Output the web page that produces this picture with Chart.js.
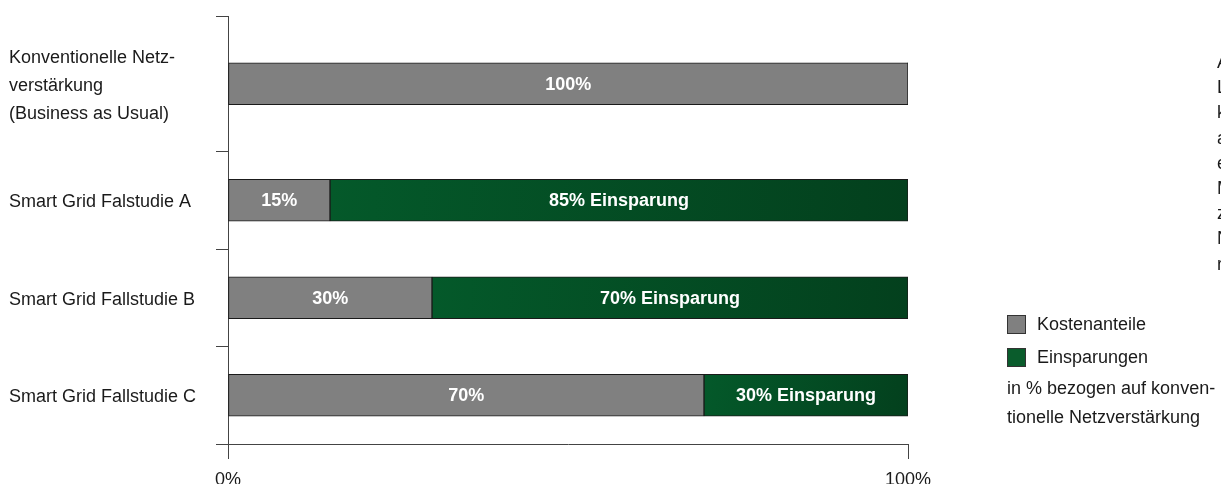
<!DOCTYPE html>
<html lang="de">
<head>
<meta charset="utf-8">
<title>Kostenanteile und Einsparungen</title>
<script src="https://cdn.jsdelivr.net/npm/chart.js@4/dist/chart.umd.min.js"></script>
<style>
  html, body { margin: 0; padding: 0; background: #fff; overflow: hidden; }
  #wrap { width: 1221px; height: 484px; }
</style>
</head>
<body>
<div id="wrap"><canvas id="chart" width="1221" height="484"></canvas></div>
<script>
const categories = [
  ["Konventionelle Netz-", "verstärkung", "(Business as Usual)"],
  ["Smart Grid Falstudie A"],
  ["Smart Grid Fallstudie B"],
  ["Smart Grid Fallstudie C"],
];
const costShare = [100, 15, 30, 70];
const savings = [0, 85, 70, 30];
const costLabels = ["100%", "15%", "30%", "70%"];
const savingLabels = ["", "85% Einsparung", "70% Einsparung", "30% Einsparung"];
const xTickValues = [0, 100];
const xTickLabels = ["0%", "100%"];
const seriesNames = ["Kostenanteile", "Einsparungen"];
const legendNote = ["in % bezogen auf konven-", "tionelle Netzverstärkung"];
// row boundaries on the y axis, top to bottom; first row is taller for its 3-line label
const bandEdges = [0, 1.39, 2.39, 3.39, 4.39];
// side text running off the right edge
const sideText = ["Auf Basis der", "Lastflussberechnungen", "konnten die", "anteiligen",
  "erforderlichen", "Maßnahmen", "zur", "Netzverstärkung", "reduziert werden."];

const rowCenters = categories.map((_, i) => (bandEdges[i] + bandEdges[i + 1]) / 2);

const FONT = '"Liberation Sans", Arial, Helvetica, sans-serif';
const GRAY = "#808080";
const GREEN = "#0a5c2c";
const AXIS = "#444";
const TEXT = "#1a1a1a";

Chart.defaults.font.family = FONT;
Chart.defaults.font.size = 18;
Chart.defaults.color = TEXT;

function savingsFill(ctx) {
  const chart = ctx.chart;
  const xs = chart.scales.x, ys = chart.scales.y;
  if (!xs || !ys || ctx.type !== "data") return GREEN;
  const i = ctx.dataIndex;
  const x0 = xs.getPixelForValue(costShare[i]);
  const x1 = xs.getPixelForValue(costShare[i] + savings[i]);
  const yc = ys.getPixelForValue(rowCenters[i]);
  if (![x0, x1, yc].every(Number.isFinite) || x1 <= x0) return GREEN;
  const g = chart.ctx.createLinearGradient(x0, yc - 21, x1, yc + 21);
  g.addColorStop(0, "#04592a");
  g.addColorStop(1, "#03401d");
  return g;
}

// white value labels inside the bar segments
const barLabels = {
  id: "barLabels",
  afterDatasetsDraw(chart) {
    const c = chart.ctx;
    const texts = [costLabels, savingLabels];
    c.save();
    c.font = "bold 18px " + FONT;
    c.fillStyle = "#fff";
    c.textAlign = "center";
    c.textBaseline = "middle";
    chart.data.datasets.forEach((ds, d) => {
      chart.getDatasetMeta(d).data.forEach((bar, i) => {
        const t = texts[d][i];
        if (!t) return;
        c.fillText(t, (bar.x + bar.base) / 2, bar.y + 1);
      });
    });
    c.restore();
  },
};

// category names, legend and note
const sideLabels = {
  id: "sideLabels",
  afterDraw(chart) {
    const c = chart.ctx;
    const ys = chart.scales.y;
    c.save();
    c.font = "18px " + FONT;
    c.fillStyle = TEXT;
    c.textAlign = "left";
    c.textBaseline = "middle";
    categories.forEach((lines, i) => {
      const yc = ys.getPixelForValue(rowCenters[i]);
      lines.forEach((line, j) => {
        c.fillText(line, 9, yc + (j - (lines.length - 1) / 2) * 28 + 2);
      });
    });

    const swatches = [GRAY, GREEN];
    seriesNames.forEach((name, i) => {
      const y = 315 + i * 33;
      c.fillStyle = swatches[i];
      c.fillRect(1007, y, 19, 19);
      c.strokeStyle = "#333";
      c.lineWidth = 1;
      c.strokeRect(1007.5, y + 0.5, 18, 18);
      c.fillStyle = TEXT;
      c.fillText(name, 1037, y + 10);
    });
    legendNote.forEach((line, j) => {
      c.fillText(line, 1007, 389 + j * 29);
    });

    sideText.forEach((line, j) => {
      c.fillText(line, 1217, 63 + j * 25.2);
    });
    c.restore();
  },
};

new Chart(document.getElementById("chart"), {
  type: "bar",
  data: {
    datasets: [
      {
        label: seriesNames[0],
        data: costShare.map((v, i) => ({ x: v, y: rowCenters[i] })),
        backgroundColor: GRAY,
        borderColor: "#1a1a1a",
        borderWidth: 1,
        borderSkipped: false,
        barThickness: 42,
      },
      {
        label: seriesNames[1],
        data: savings.map((v, i) => ({ x: v, y: rowCenters[i] })),
        backgroundColor: savingsFill,
        borderColor: "#1a1a1a",
        borderWidth: (ctx) => (savings[ctx.dataIndex] > 0 ? 1 : 0),
        borderSkipped: false,
        barThickness: 42,
      },
    ],
  },
  options: {
    indexAxis: "y",
    responsive: false,
    animation: false,
    layout: { padding: { top: 16, right: 313, left: 0, bottom: 0 } },
    plugins: {
      legend: { display: false },
      tooltip: { enabled: false },
    },
    scales: {
      x: {
        type: "linear",
        stacked: true,
        min: 0,
        max: 100,
        afterBuildTicks: (s) => { s.ticks = xTickValues.map((v) => ({ value: v })); },
        afterFit: (s) => { s.height = 40; },
        ticks: {
          callback: (v, i) => xTickLabels[i],
          color: TEXT,
          font: { size: 18 },
          padding: 10,
          maxRotation: 0,
          autoSkip: false,
        },
        grid: { drawOnChartArea: false, tickLength: 15, color: AXIS },
        border: { color: AXIS, width: 1 },
      },
      y: {
        type: "linear",
        stacked: true,
        reverse: true,
        offset: false,
        min: bandEdges[0],
        max: bandEdges[bandEdges.length - 1],
        afterBuildTicks: (s) => { s.ticks = bandEdges.map((v) => ({ value: v })); },
        afterFit: (s) => { s.width = 228; },
        ticks: { display: false },
        grid: { offset: false, drawOnChartArea: false, tickLength: 12, color: AXIS },
        border: { color: AXIS, width: 1 },
      },
    },
  },
  plugins: [barLabels, sideLabels],
});
</script>
</body>
</html>
